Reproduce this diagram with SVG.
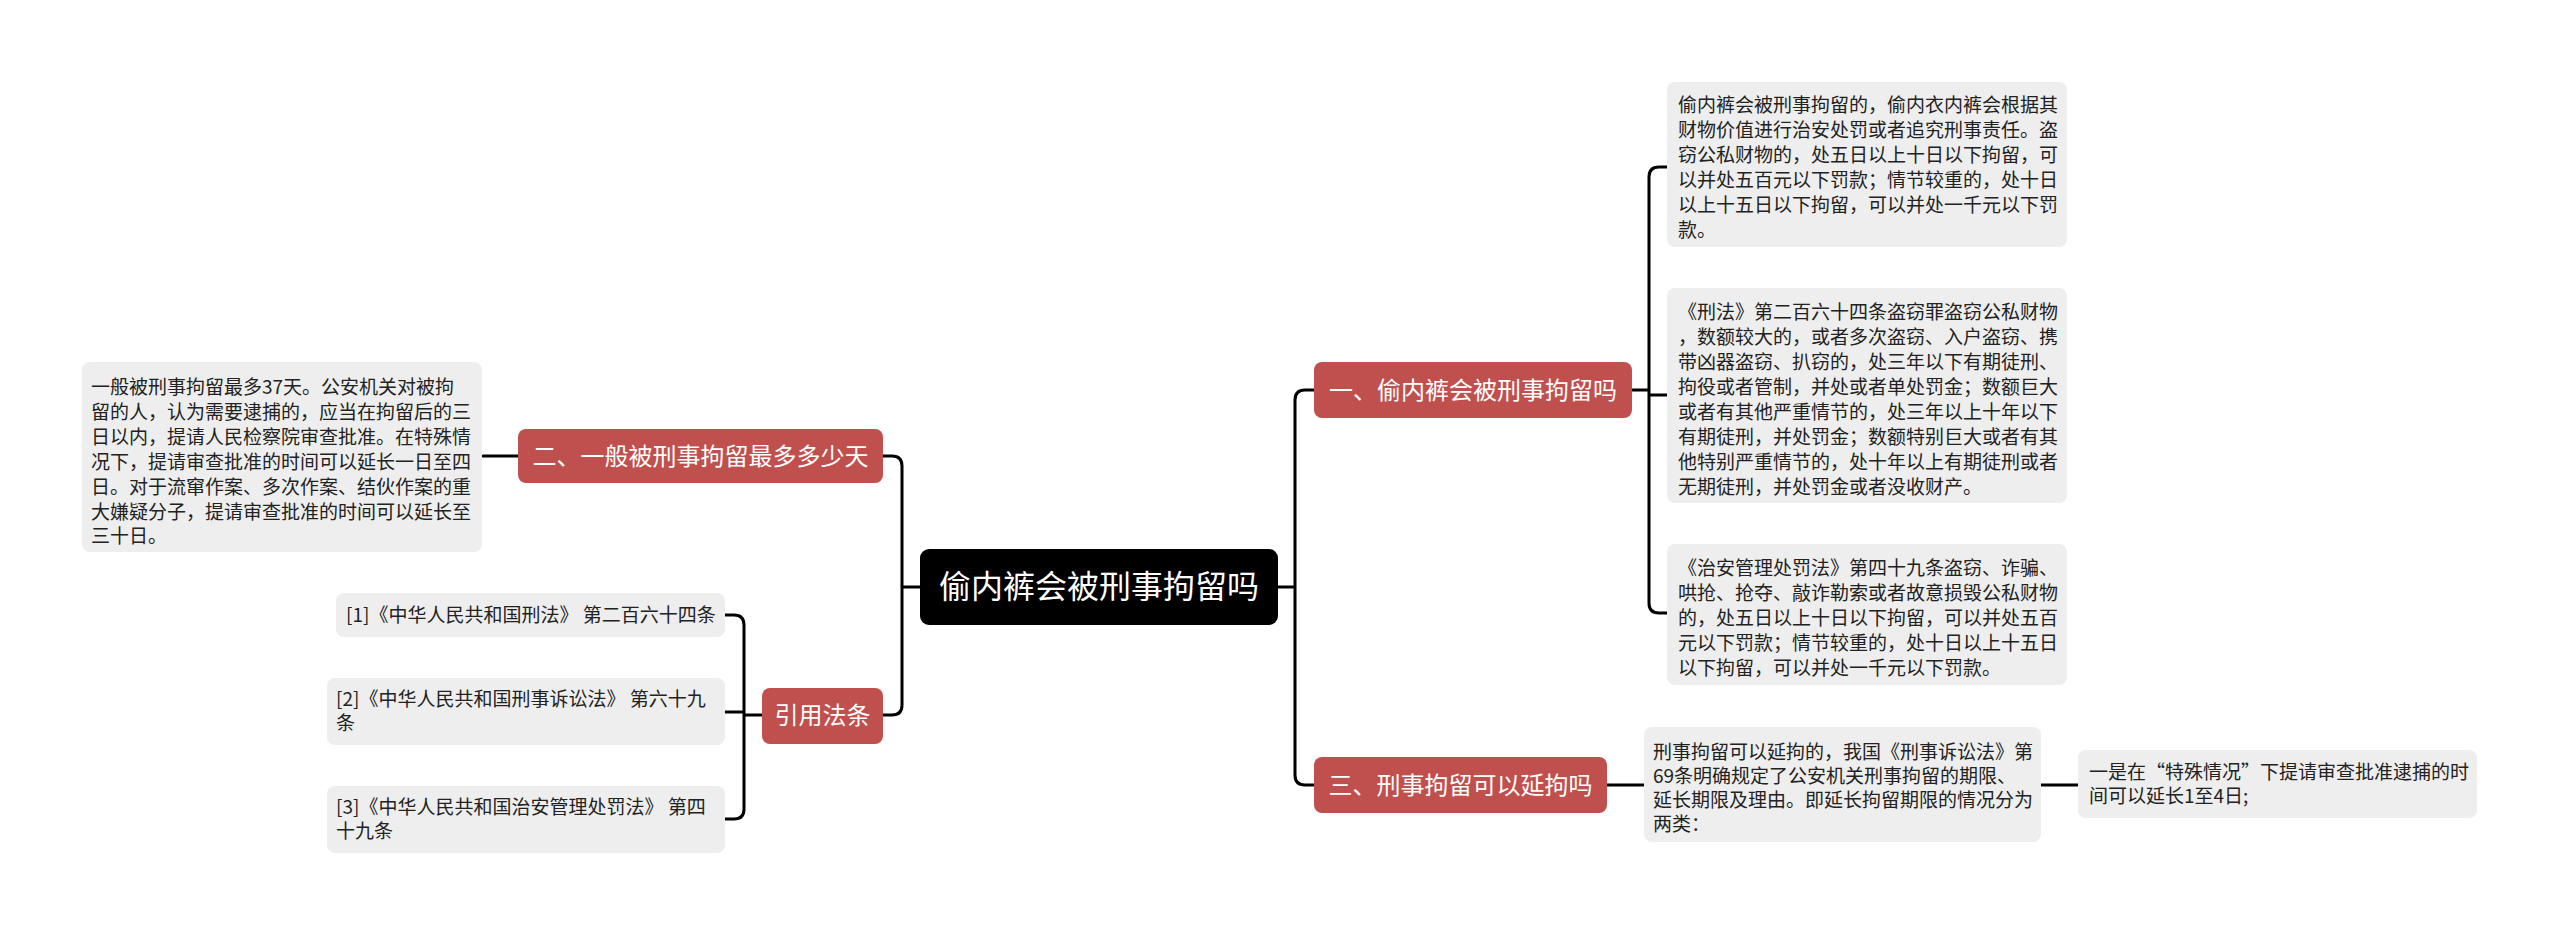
<svg xmlns="http://www.w3.org/2000/svg" width="2560" height="936" viewBox="0 0 2560 936">
<style>
.conn{fill:none;stroke:#000;stroke-width:3;stroke-linecap:round;stroke-linejoin:round}
.leaf{fill:#eeeeee}
.br{fill:#c0504d}
.t{font-family:"Noto Sans CJK SC","Noto Sans",sans-serif;font-size:19px;fill:#222}
.bt{font-family:"Noto Sans CJK SC","Noto Sans",sans-serif;font-size:24px;fill:#fff}
.rt{font-family:"Noto Sans CJK SC","Noto Sans",sans-serif;font-size:32px;fill:#fff}
</style>
<rect width="2560" height="936" fill="#fff"/>
<g id="connectors">
<path class="conn" d="M1278,587 H1295 M1295,587 V400 Q1295,390 1305,390 H1314 M1295,587 V775 Q1295,785 1305,785 H1314"/>
<path class="conn" d="M920,587 H902 M902,587 V466 Q902,456 892,456 H883 M902,587 V705 Q902,715 892,715 H883"/>
<path class="conn" d="M1632,390 H1649 M1649,390 V177 Q1649,167 1659,167 H1667 M1649,395 H1667 M1649,390 V603 Q1649,613 1659,613 H1667"/>
<path class="conn" d="M1607,785 H1644 M2041,785 H2078"/>
<path class="conn" d="M518,456 H483"/>
<path class="conn" d="M762,715 H744 M744,715 V625 Q744,615 734,615 H725 M744,712 H725 M744,715 V809 Q744,819 734,819 H725"/>
</g>
<g id="root">
<rect x="920" y="549" width="358" height="76" rx="9" fill="#000"/>
<text class="rt" x="1099" y="598" text-anchor="middle">偷内裤会被刑事拘留吗</text>
</g>
<g id="branch1">
<rect class="br" x="1314" y="362" width="318" height="56" rx="8"/>
<text class="bt" x="1473" y="399" text-anchor="middle">一、偷内裤会被刑事拘留吗</text>
</g>
<g id="branch3">
<rect class="br" x="1314" y="757" width="293" height="56" rx="8"/>
<text class="bt" x="1460.5" y="794" text-anchor="middle">三、刑事拘留可以延拘吗</text>
</g>
<g id="branch2">
<rect class="br" x="518" y="429" width="365" height="54" rx="8"/>
<text class="bt" x="700.5" y="465" text-anchor="middle">二、一般被刑事拘留最多多少天</text>
</g>
<g id="cite">
<rect class="br" x="762" y="688" width="121" height="56" rx="8"/>
<text class="bt" x="822.5" y="724" text-anchor="middle">引用法条</text>
</g>
<g id="leaf1">
<rect class="leaf" x="1667" y="82" width="400" height="165" rx="8"/>
<text class="t" x="1678" y="112">偷内裤会被刑事拘留的，偷内衣内裤会根据其</text>
<text class="t" x="1678" y="137">财物价值进行治安处罚或者追究刑事责任。盗</text>
<text class="t" x="1678" y="162">窃公私财物的，处五日以上十日以下拘留，可</text>
<text class="t" x="1678" y="187">以并处五百元以下罚款；情节较重的，处十日</text>
<text class="t" x="1678" y="212">以上十五日以下拘留，可以并处一千元以下罚</text>
<text class="t" x="1678" y="237">款。</text>
</g>
<g id="leaf2">
<rect class="leaf" x="1667" y="288" width="400" height="215" rx="8"/>
<text class="t" x="1678" y="319">《刑法》第二百六十四条盗窃罪盗窃公私财物</text>
<text class="t" x="1678" y="344">，数额较大的，或者多次盗窃、入户盗窃、携</text>
<text class="t" x="1678" y="369">带凶器盗窃、扒窃的，处三年以下有期徒刑、</text>
<text class="t" x="1678" y="394">拘役或者管制，并处或者单处罚金；数额巨大</text>
<text class="t" x="1678" y="419">或者有其他严重情节的，处三年以上十年以下</text>
<text class="t" x="1678" y="444">有期徒刑，并处罚金；数额特别巨大或者有其</text>
<text class="t" x="1678" y="469">他特别严重情节的，处十年以上有期徒刑或者</text>
<text class="t" x="1678" y="494">无期徒刑，并处罚金或者没收财产。</text>
</g>
<g id="leaf3">
<rect class="leaf" x="1667" y="544" width="400" height="141" rx="8"/>
<text class="t" x="1678" y="575">《治安管理处罚法》第四十九条盗窃、诈骗、</text>
<text class="t" x="1678" y="600">哄抢、抢夺、敲诈勒索或者故意损毁公私财物</text>
<text class="t" x="1678" y="625">的，处五日以上十日以下拘留，可以并处五百</text>
<text class="t" x="1678" y="650">元以下罚款；情节较重的，处十日以上十五日</text>
<text class="t" x="1678" y="675">以下拘留，可以并处一千元以下罚款。</text>
</g>
<g id="leaf4">
<rect class="leaf" x="1644" y="727" width="397" height="115" rx="8"/>
<text class="t" x="1653" y="759">刑事拘留可以延拘的，我国《刑事诉讼法》第</text>
<text class="t" x="1653" y="783">69条明确规定了公安机关刑事拘留的期限、</text>
<text class="t" x="1653" y="807">延长期限及理由。即延长拘留期限的情况分为</text>
<text class="t" x="1653" y="831">两类：</text>
</g>
<g id="leaf5">
<rect class="leaf" x="2078" y="750" width="399" height="68" rx="8"/>
<text class="t" x="2089" y="779">一是在“特殊情况”下提请审查批准逮捕的时</text>
<text class="t" x="2089" y="803">间可以延长1至4日;</text>
</g>
<g id="leaf6">
<rect class="leaf" x="82" y="362" width="400" height="190" rx="8"/>
<text class="t" x="91" y="394">一般被刑事拘留最多37天。公安机关对被拘</text>
<text class="t" x="91" y="419">留的人，认为需要逮捕的，应当在拘留后的三</text>
<text class="t" x="91" y="444">日以内，提请人民检察院审查批准。在特殊情</text>
<text class="t" x="91" y="469">况下，提请审查批准的时间可以延长一日至四</text>
<text class="t" x="91" y="494">日。对于流窜作案、多次作案、结伙作案的重</text>
<text class="t" x="91" y="519">大嫌疑分子，提请审查批准的时间可以延长至</text>
<text class="t" x="91" y="543">三十日。</text>
</g>
<g id="ref1">
<rect class="leaf" x="336" y="593" width="389" height="44" rx="8"/>
<text class="t" x="346" y="622">[1]《中华人民共和国刑法》 第二百六十四条</text>
</g>
<g id="ref2">
<rect class="leaf" x="327" y="678" width="398" height="67" rx="8"/>
<text class="t" x="336" y="706">[2]《中华人民共和国刑事诉讼法》 第六十九</text>
<text class="t" x="336" y="730">条</text>
</g>
<g id="ref3">
<rect class="leaf" x="327" y="786" width="398" height="67" rx="8"/>
<text class="t" x="336" y="814">[3]《中华人民共和国治安管理处罚法》 第四</text>
<text class="t" x="336" y="838">十九条</text>
</g>
</svg>
